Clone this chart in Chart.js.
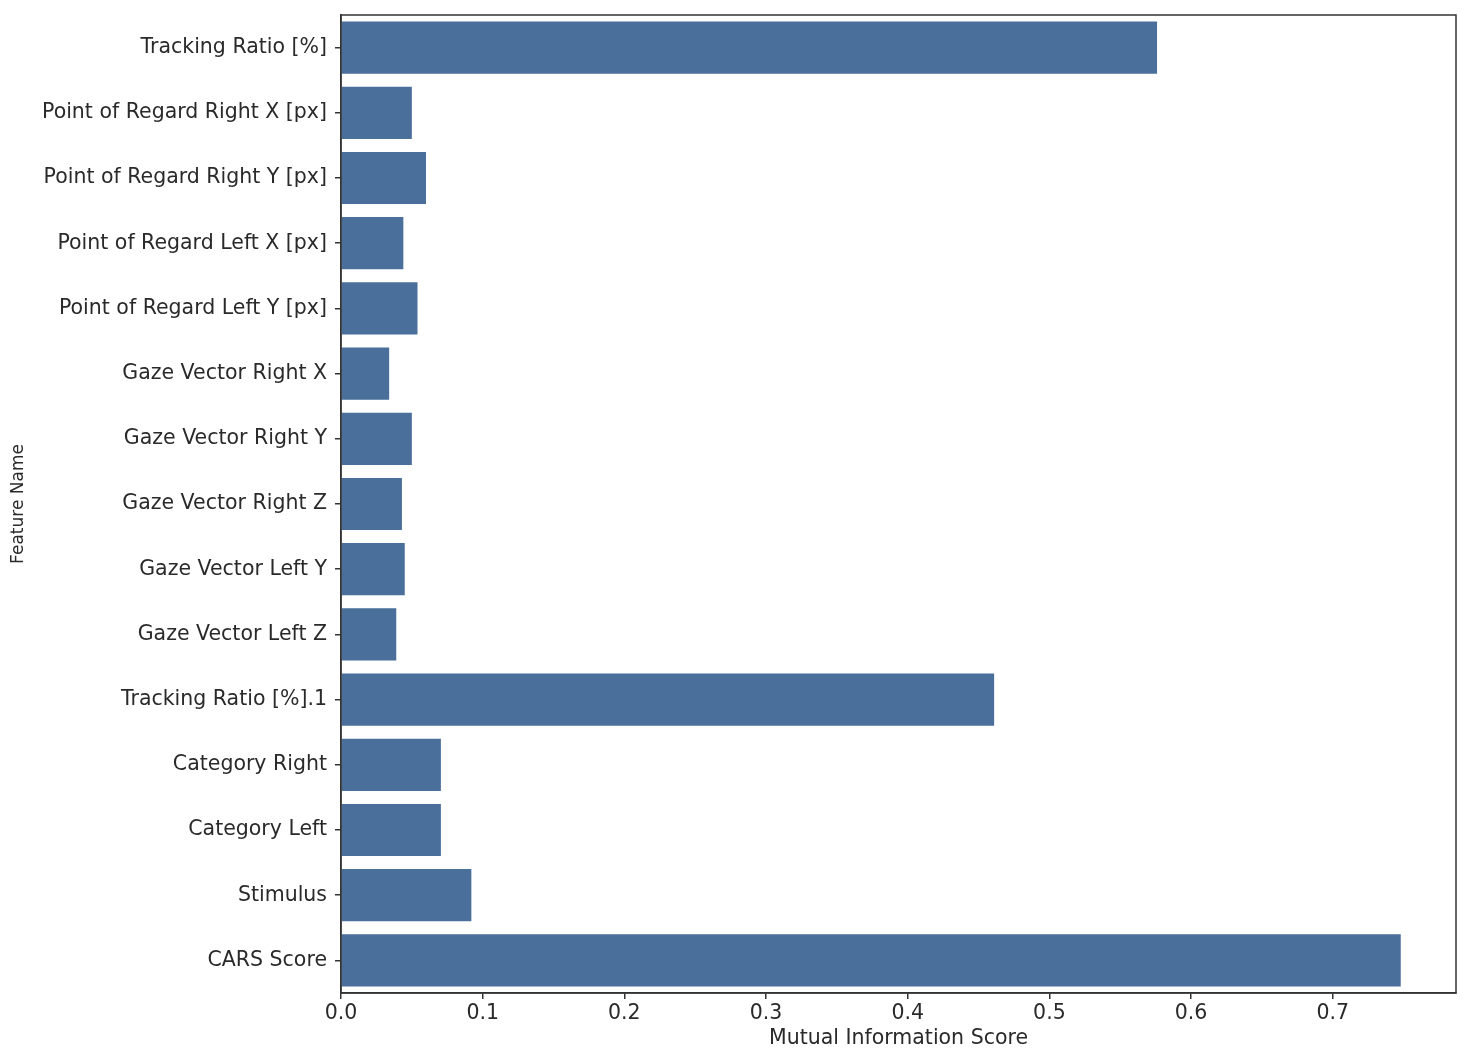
<!DOCTYPE html>
<html>
<head>
<meta charset="utf-8">
<script src="https://cdn.jsdelivr.net/npm/chart.js@4.4.0/dist/chart.umd.min.js"></script>
<style>
html,body{margin:0;padding:0;background:#fff;}
#wrap{width:1477px;height:1057px;position:relative;}
</style>
</head>
<body>
<div id="wrap"><canvas id="c" width="1477" height="1057"></canvas></div>
<script>
const categories = [
  "Tracking Ratio [%]",
  "Point of Regard Right X [px]",
  "Point of Regard Right Y [px]",
  "Point of Regard Left X [px]",
  "Point of Regard Left Y [px]",
  "Gaze Vector Right X",
  "Gaze Vector Right Y",
  "Gaze Vector Right Z",
  "Gaze Vector Left Y",
  "Gaze Vector Left Z",
  "Tracking Ratio [%].1",
  "Category Right",
  "Category Left",
  "Stimulus",
  "CARS Score"
];
const miScores = [0.576, 0.050, 0.060, 0.044, 0.054, 0.034, 0.050, 0.043, 0.045, 0.039, 0.461, 0.0705, 0.0705, 0.092, 0.748];
const xTickValues = [0.0, 0.1, 0.2, 0.3, 0.4, 0.5, 0.6, 0.7];

const frame = {
  id: 'frame',
  afterDraw(chart) {
    const a = chart.chartArea, ctx = chart.ctx;
    ctx.save();
    ctx.strokeStyle = '#333';
    ctx.lineWidth = 1.5;
    ctx.strokeRect(a.left, a.top, a.right - a.left, a.bottom - a.top);
    ctx.restore();
  }
};

const font = "'DejaVu Sans', sans-serif";
new Chart(document.getElementById('c'), {
  type: 'bar',
  data: {
    labels: categories,
    datasets: [{
      data: miScores,
      backgroundColor: '#4a6f9b',
      borderWidth: 0,
      barPercentage: 0.8,
      categoryPercentage: 1.0
    }]
  },
  options: {
    indexAxis: 'y',
    responsive: false,
    animation: false,
    layout: { padding: { left: 0, right: 21, top: 15, bottom: 0 } },
    plugins: { legend: { display: false }, tooltip: { enabled: false } },
    scales: {
      x: {
        min: 0, max: 0.787,
        afterBuildTicks: (s) => { s.ticks = xTickValues.map(v => ({ value: v })); },
        afterFit: (s) => { s.height = 64; s.paddingLeft = 0; s.paddingRight = 0; },
        ticks: {
          font: { family: font, size: 20.5 }, color: '#2a2a2a', padding: 2,
          callback: (v) => Number(v).toFixed(1),
          maxRotation: 0
        },
        grid: { display: true, drawOnChartArea: false, drawTicks: true, tickLength: 6, color: '#333', lineWidth: 1.5 },
        border: { display: true, color: '#333', width: 1.5 },
        title: { display: true, text: 'Mutual Information Score', font: { family: font, size: 20.5 }, color: '#2a2a2a', padding: { top: 0, bottom: 6 } }
      },
      y: {
        afterFit: (s) => { s.width = 341; s.paddingTop = 0; s.paddingBottom = 0; },
        ticks: { font: { family: font, size: 20.5 }, color: '#2a2a2a', padding: 8 },
        grid: { display: true, offset: false, drawOnChartArea: false, drawTicks: true, tickLength: 6, color: '#333', lineWidth: 1.5 },
        border: { display: true, color: '#333', width: 1.5 },
        title: { display: true, text: 'Feature Name', font: { family: font, size: 17 }, color: '#2a2a2a', padding: { top: 8, bottom: 0 } }
      }
    }
  },
  plugins: [frame]
});
</script>
</body>
</html>
